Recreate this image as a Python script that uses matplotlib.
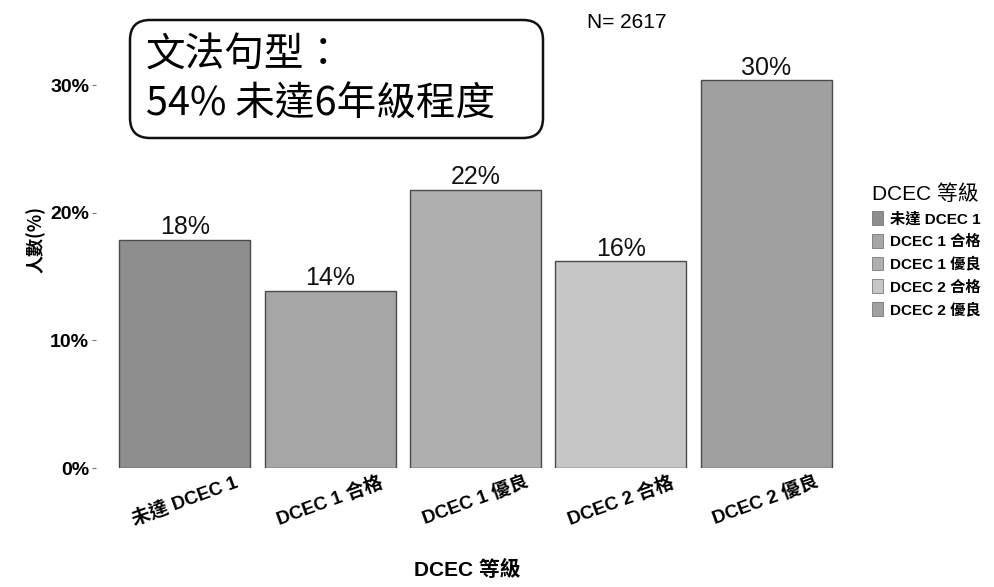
import matplotlib
matplotlib.use("Agg")
import matplotlib.pyplot as plt
from matplotlib.patches import Patch, FancyBboxPatch


# --------------------------------------------------------
# Data
# --------------------------------------------------------

categories = ["未達 DCEC 1", "DCEC 1 合格", "DCEC 1 優良", "DCEC 2 合格", "DCEC 2 優良"]
percent = [17.9, 13.9, 21.8, 16.2, 30.4]
bar_labels = ["18%", "14%", "22%", "16%", "30%"]
y_ticks = [0, 10, 20, 30]
y_tick_labels = ["0%", "10%", "20%", "30%"]

n_text = "N= 2617"
note_lines = ["文法句型：", "54% 未達6年級程度"]

bar_colors = ["#8e8e8e", "#a6a6a6", "#afafaf", "#c6c6c6", "#a0a0a0"]

CJK = ["Noto Sans CJK TC", "DejaVu Sans"]
LATIN = ["Liberation Sans", "Noto Sans CJK TC", "DejaVu Sans"]
plt.rcParams["font.family"] = CJK


# --------------------------------------------------------
# Figure
# --------------------------------------------------------

fig = plt.figure(figsize=(9.94, 5.87), dpi=100)
ax = fig.add_axes([0.0966, 0.2027, 0.7475, 0.6953])

x = list(range(len(categories)))

ax.bar(
    x,
    percent,
    width=0.9,
    color=bar_colors,
    edgecolor="#4a4a4a",
    linewidth=1.0,
    zorder=2,
)

for xi, val, lab in zip(x, percent, bar_labels):
    ax.text(
        xi,
        val + 0.05,
        lab,
        ha="center",
        va="bottom",
        fontsize=18,
        family=LATIN,
        color="#111111",
    )

ax.set_xlim(-0.61, 4.5)
ax.set_ylim(0, 32)

ax.set_yticks(y_ticks)
ax.set_yticklabels(y_tick_labels, fontsize=14, fontweight="bold", family=LATIN)
ax.set_xticks(x)
ax.set_xticklabels(categories, rotation=20, ha="center", fontsize=13.5,
                   fontweight="bold", family=LATIN)

ax.tick_params(axis="y", length=3, width=0.8, color="#777777", pad=2)
ax.tick_params(axis="x", length=0, pad=4)

for side in ["left", "right", "top", "bottom"]:
    ax.spines[side].set_visible(False)

ax.set_ylabel("人數(%)", fontsize=13, fontweight="bold")
ax.yaxis.set_label_coords(-0.068, 0.56)
ax.set_xlabel("DCEC 等級", fontsize=15, fontweight="bold", family=LATIN,
              labelpad=22)


# --------------------------------------------------------
# Annotations
# --------------------------------------------------------

box = FancyBboxPatch(
    (1.30, 4.49),
    4.13,
    1.18,
    boxstyle="round,pad=0,rounding_size=0.2",
    transform=fig.dpi_scale_trans,
    facecolor="white",
    edgecolor="#111111",
    linewidth=1.8,
    zorder=5,
)
fig.patches.append(box)

for line, ypix in zip(note_lines, [56, 105]):
    fig.text(
        146 / 994,
        1 - ypix / 587,
        line,
        ha="left",
        va="center",
        fontsize=28.5,
        family=CJK,
        zorder=6,
    )

fig.text(
    627 / 994,
    1 - 22 / 587,
    n_text,
    ha="center",
    va="center",
    fontsize=15,
    family=LATIN,
)


# --------------------------------------------------------
# Legend
# --------------------------------------------------------

handles = [
    Patch(facecolor=c, edgecolor="#666666", linewidth=0.5)
    for c in bar_colors
]

leg = fig.legend(
    handles,
    categories,
    title="DCEC 等級",
    loc="upper left",
    bbox_to_anchor=(872 / 994, 1 - 184 / 587),
    frameon=False,
    handlelength=0.75,
    handleheight=1.0,
    handletextpad=0.4,
    labelspacing=0.5,
    borderaxespad=0,
    borderpad=0,
    alignment="left",
    prop={"weight": "bold", "size": 11, "family": LATIN},
)
leg.get_title().set_fontsize(15)
leg.get_title().set_family(LATIN)

fig.savefig("out.png", dpi=100)
